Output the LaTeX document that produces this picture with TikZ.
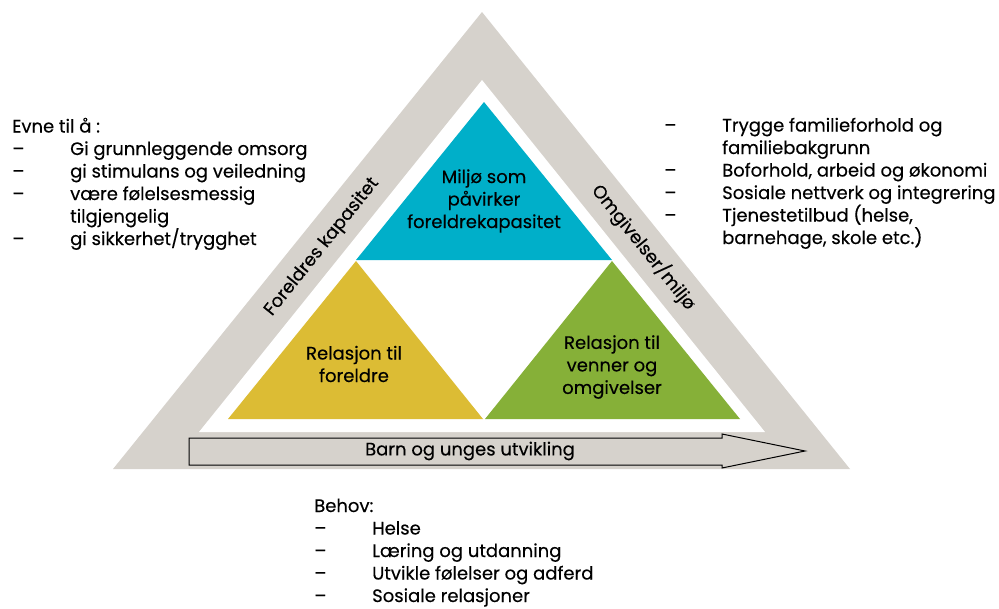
\documentclass[tikz,border=0pt]{standalone}
\usepackage{fontspec}
\setmainfont{Poppins}[FakeBold=0.3]
\definecolor{bandgray}{HTML}{D6D2CC}
\definecolor{tblue}{HTML}{00AFC9}
\definecolor{tyellow}{HTML}{DCBC34}
\definecolor{tgreen}{HTML}{86B038}
\newcommand{\dsh}{\makebox[58pt][l]{--}}
\newcommand{\ind}{\hspace*{58pt}}
\begin{document}
\begin{tikzpicture}[x=1pt,y=-1pt,
  txt/.style={inner sep=0pt, font=\fontsize{18}{22.5}\selectfont, text=black},
  listtxt/.style={txt, align=left, anchor=base west},
  tritxt/.style={txt, align=center},
  bandtxt/.style={txt, font=\fontsize{18}{20}\selectfont}]
\useasboundingbox (0,0) rectangle (999,608);
% outer band
\fill[bandgray] (482,12) -- (850,469) -- (113,469) -- cycle;
\fill[white] (482,80) -- (765,432) -- (199,432) -- cycle;
% inner triangles
\fill[tblue] (484,102) -- (612,260) -- (356,260) -- cycle;
\fill[tyellow] (356,261) -- (483,419) -- (228,419) -- cycle;
\fill[tgreen] (612,261) -- (740,419) -- (485,419) -- cycle;
% arrow
\draw[fill=bandgray, line width=1pt, line join=miter]
  (189,438) -- (722,438) -- (722,434) -- (805,451) -- (722,468) -- (722,465) -- (189,465) -- cycle;
\node[txt] (arrowlbl) at (470,451) {Barn og unges utvikling};
% triangle labels
\node[tritxt] (blue) at (484,201) {Miljø som\\påvirker\\foreldrekapasitet};
\node[tritxt] (yellow) at (354,364) {Relasjon til\\foreldre};
\node[tritxt] (green) at (612,367) {Relasjon til\\venner og\\omgivelser};
% band labels
\node[bandtxt, rotate=51.3] (left) at (322,247) {Foreldres kapasitet};
\node[bandtxt, rotate=-51.3] (right) at (644,247) {Omgivelser/miljø};
% lists (anchored at the baseline of the last line)
\node[listtxt] (evne) at (12,245) {Evne til å :\\
\dsh Gi grunnleggende omsorg\\
\dsh gi stimulans og veiledning\\
\dsh være følelsesmessig\\
\ind tilgjengelig\\
\dsh gi sikkerhet/trygghet};
\node[listtxt] (omg) at (664,244) {\dsh Trygge familieforhold og\\
\ind familiebakgrunn\\
\dsh Boforhold, arbeid og økonomi\\
\dsh Sosiale nettverk og integrering\\
\dsh Tjenestetilbud (helse,\\
\ind barnehage, skole etc.)};
\node[listtxt] (behov) at (314,602) {Behov:\\
\dsh Helse\\
\dsh Læring og utdanning\\
\dsh Utvikle følelser og adferd\\
\dsh Sosiale relasjoner};
\end{tikzpicture}
\end{document}
